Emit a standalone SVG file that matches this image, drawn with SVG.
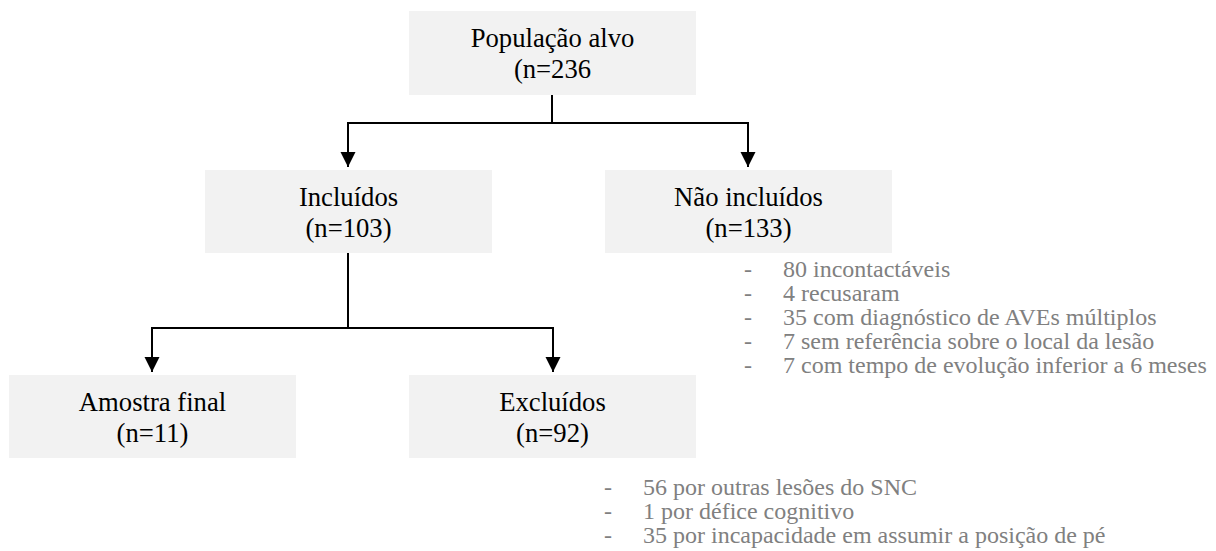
<svg xmlns="http://www.w3.org/2000/svg" width="1216" height="551" viewBox="0 0 1216 551">
<defs>
<style>
.box{fill:#f2f2f2;}
.t{font-size:26.67px;fill:#000;text-anchor:middle;}
.g{font-size:24px;fill:#808080;}
.c{fill:none;stroke:#000;stroke-width:2;}
</style>
<marker id="ah" markerWidth="16" markerHeight="16" refX="15" refY="7.5" orient="auto" markerUnits="userSpaceOnUse">
<path d="M0,0 L15,7.5 L0,15 Z" fill="#000"/>
</marker>
</defs>
<rect width="1216" height="551" fill="#fff"/>
<g id="connectors">
<path class="c" d="M552,95 V123 H348 V167" marker-end="url(#ah)"/>
<path class="c" d="M552,123 H748 V167" marker-end="url(#ah)"/>
<path class="c" d="M348,253 V328 H152 V372" marker-end="url(#ah)"/>
<path class="c" d="M348,328 H553 V372" marker-end="url(#ah)"/>
</g>
<g font-family="Liberation Serif, DejaVu Serif, serif">
<g id="populacao">
<rect class="box" x="409" y="11" width="287" height="84"/>
<text class="t" x="552.5" y="47">População alvo</text>
<text class="t" x="552.5" y="78">(n=236</text>
</g>
<g id="incluidos">
<rect class="box" x="205" y="170" width="287" height="83"/>
<text class="t" x="348.5" y="206">Incluídos</text>
<text class="t" x="348.5" y="237">(n=103)</text>
</g>
<g id="nao-incluidos">
<rect class="box" x="605" y="170" width="287" height="83"/>
<text class="t" x="748.5" y="206">Não incluídos</text>
<text class="t" x="748.5" y="237">(n=133)</text>
</g>
<g id="amostra">
<rect class="box" x="9" y="375" width="287" height="83"/>
<text class="t" x="152.5" y="411">Amostra final</text>
<text class="t" x="152.5" y="442">(n=11)</text>
</g>
<g id="excluidos">
<rect class="box" x="409" y="375" width="287" height="83"/>
<text class="t" x="552.5" y="411">Excluídos</text>
<text class="t" x="552.5" y="442">(n=92)</text>
</g>
<g id="nao-incluidos-list">
<text class="g" x="744" y="277">-</text><text class="g" x="783" y="277">80 incontactáveis</text>
<text class="g" x="744" y="301">-</text><text class="g" x="783" y="301">4 recusaram</text>
<text class="g" x="744" y="325">-</text><text class="g" x="783" y="325">35 com diagnóstico de AVEs múltiplos</text>
<text class="g" x="744" y="349">-</text><text class="g" x="783" y="349">7 sem referência sobre o local da lesão</text>
<text class="g" x="744" y="373">-</text><text class="g" x="783" y="373">7 com tempo de evolução inferior a 6 meses</text>
</g>
<g id="excluidos-list">
<text class="g" x="604" y="495">-</text><text class="g" x="643" y="495">56 por outras lesões do SNC</text>
<text class="g" x="604" y="519">-</text><text class="g" x="643" y="519">1 por défice cognitivo</text>
<text class="g" x="604" y="543">-</text><text class="g" x="643" y="543">35 por incapacidade em assumir a posição de pé</text>
</g>
</g>
</svg>
